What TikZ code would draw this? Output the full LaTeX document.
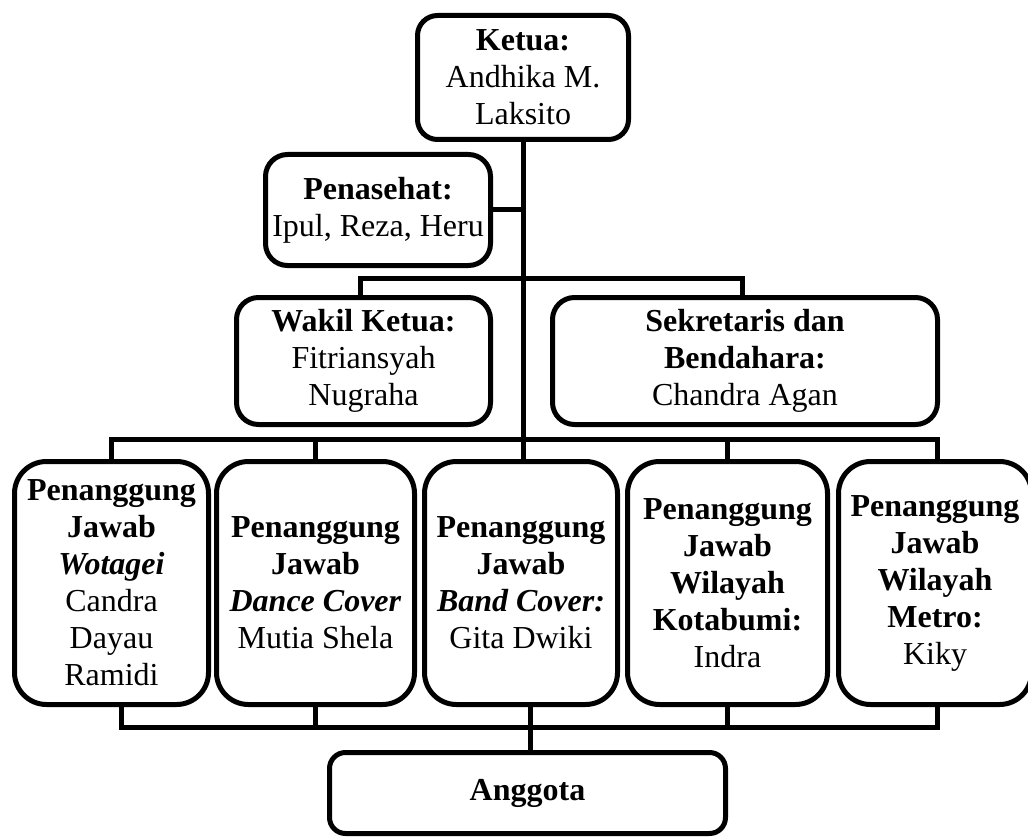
\documentclass[tikz,border=0pt]{standalone}
\usepackage{fontspec}
\setmainfont{Liberation Serif}
\begin{document}
\begin{tikzpicture}[x=1pt,y=-1pt,
  box/.style={draw, line width=5pt, rounded corners=#1, align=center, inner sep=0pt,
              font=\fontsize{32}{37}\selectfont},
  box/.default=20pt,
  conn/.style={line width=5pt, line join=miter}]
\clip (0,0) rectangle (1028,837);
% top
\node[box, minimum width=211pt, minimum height=124pt] (ketua) at (523,77.5)
  {\textbf{Ketua:}\\Andhika M.\\Laksito};
\node[box=22pt, minimum width=225pt, minimum height=111pt] (pen) at (378,210)
  {\textbf{Penasehat:}\\Ipul, Reza, Heru};
% second row
\node[box=22pt, minimum width=254pt, minimum height=127pt] (wakil) at (363.5,361)
  {\textbf{Wakil Ketua:}\\Fitriansyah\\Nugraha};
\node[box=22pt, minimum width=385pt, minimum height=127pt] (sek) at (745,361)
  {\textbf{Sekretaris dan}\\\textbf{Bendahara:}\\Chandra Agan};
% third row
\node[box=32pt, minimum width=194pt, minimum height=243pt] (b1) at (111.5,583)
  {\textbf{Penanggung}\\\textbf{Jawab}\\\textbf{\textit{Wotagei}}\\Candra\\Dayau\\Ramidi};
\node[box=32pt, minimum width=198pt, minimum height=243pt] (b2) at (315.5,583)
  {\textbf{Penanggung}\\\textbf{Jawab}\\\textbf{\textit{Dance Cover}}\\Mutia Shela};
\node[box=32pt, minimum width=193pt, minimum height=243pt] (b3) at (521,583)
  {\textbf{Penanggung}\\\textbf{Jawab}\\\textbf{\textit{Band Cover:}}\\Gita Dwiki};
\node[box=32pt, minimum width=200pt, minimum height=243pt] (b4) at (727.5,583)
  {\textbf{Penanggung}\\\textbf{Jawab}\\\textbf{Wilayah}\\\textbf{Kotabumi:}\\Indra};
\node[box=32pt, minimum width=193pt, minimum height=243pt] (b5) at (935,583)
  {\textbf{Penanggung}\\\textbf{Jawab}\\\textbf{Wilayah}\\\textbf{Metro:}\\Kiky};
% bottom
\node[box=16pt, minimum width=396pt, minimum height=81pt] (ang) at (527.5,793)
  {\textbf{Anggota}};
% junctions
\coordinate (j2) at (523,278);
\coordinate (j3) at (523,439);
\coordinate (j4) at (530,727);
% connectors
\draw[conn] (ketua.south) -- (ketua.south |- b3.north);
\draw[conn] (pen.east) -- (pen.east -| ketua.south);
\draw[conn] ([xshift=-3pt]wakil.north) |- (j2) -| ([xshift=-3pt]sek.north);
\draw[conn] (b1.north) |- (j3) -| ([xshift=2pt]b5.north);
\draw[conn] (b2.north) -- (b2.north |- j3);
\draw[conn] (b4.north) -- (b4.north |- j3);
\draw[conn] ([xshift=10pt]b1.south) |- (j4) -| ([xshift=2pt]b5.south);
\draw[conn] (b2.south) -- (b2.south |- j4);
\draw[conn] (b4.south) -- (b4.south |- j4);
\draw[conn] (j4 |- b3.south) -- (j4 |- ang.north);
\end{tikzpicture}
\end{document}
